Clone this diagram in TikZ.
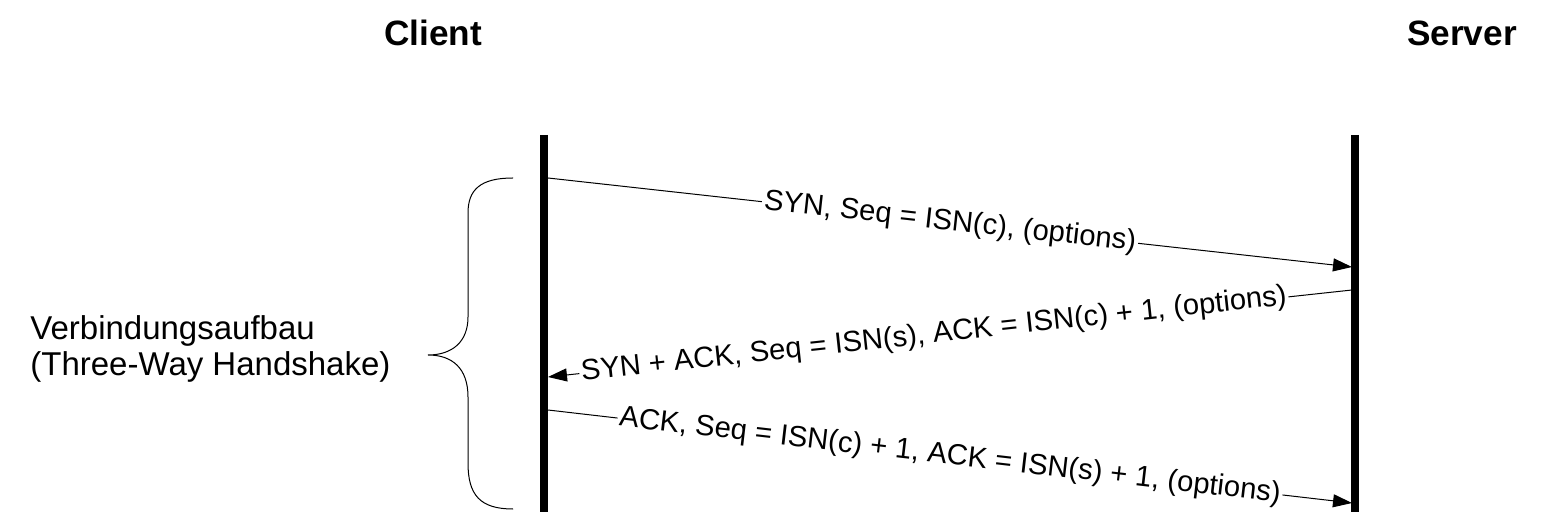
\documentclass[tikz,border=0pt]{standalone}
\usepackage{fontspec}
\setmainfont{Liberation Sans}
\usetikzlibrary{arrows.meta}

\tikzset{
	lifeline/.style={line width=4pt},
	msg/.style={-{Triangle[length=9.5pt,width=6.5pt]}, line width=0.5pt},
	msglabel/.style={sloped, fill=white, inner sep=1pt, font=\fontsize{14.6}{17}\selectfont},
	title/.style={font=\fontsize{17.6}{21}\selectfont\bfseries},
}

\begin{document}
\begin{tikzpicture}[x=0.5pt, y=-0.5pt]
	\useasboundingbox (0,0) rectangle (1556,512);

	\node [title] (client) at (433,33) {Client};
	\node [title] (server) at (1462,33) {Server};

	% lifelines
	\coordinate (c_top) at (544,135);
	\coordinate (c_bot) at (544,520);
	\coordinate (s_top) at (1355,135);
	\coordinate (s_bot) at (1355,520);
	\draw [lifeline] (c_top) -- (c_bot);
	\draw [lifeline] (s_top) -- (s_bot);

	% message end points
	\coordinate (c_1) at (548,178);
	\coordinate (s_1) at (1352,267);
	\coordinate (s_2) at (1352,290);
	\coordinate (c_2) at (548,377);
	\coordinate (c_3) at (548,410);
	\coordinate (s_3) at (1352,503);

	\draw [msg] (c_1) to node [msglabel] {SYN, Seq = ISN(c), (options)} (s_1);
	\draw [msg] (s_2) to node [msglabel, pos=0.52] {SYN + ACK, Seq = ISN(s), ACK = ISN(c) + 1, (options)} (c_2);
	\draw [msg] (c_3) to node [msglabel] {ACK, Seq = ISN(c) + 1, ACK = ISN(s) + 1, (options)} (s_3);

	% brace
	\draw [line width=0.5pt] (513,178) .. controls (480,178) and (468,190) .. (468,213)
		-- (468,317) .. controls (468,342) and (452,355) .. (428,355)
		.. controls (452,355) and (468,368) .. (468,397)
		-- (468,463) .. controls (468,495) and (480,509) .. (513,509);

	\node [anchor=west, align=left, inner sep=0pt, font=\fontsize{16.5}{18}\selectfont] (phase) at (30,349) {Verbindungsaufbau\\(Three-Way Handshake)};
\end{tikzpicture}
\end{document}
